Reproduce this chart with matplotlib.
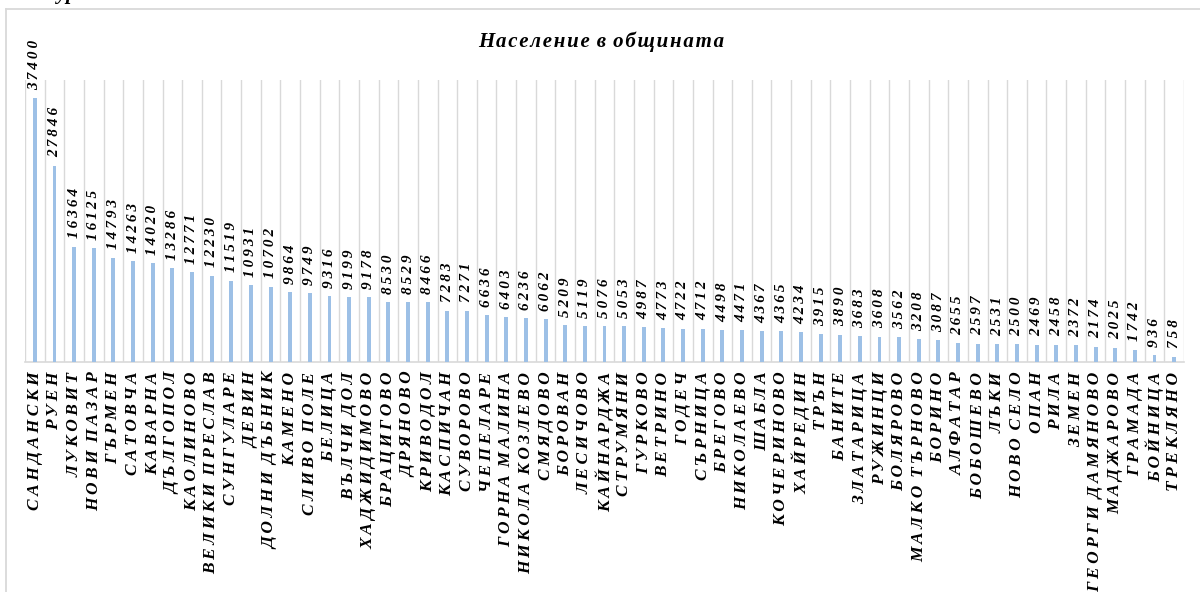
import matplotlib
matplotlib.use("Agg")
import matplotlib.pyplot as plt
import numpy as np
from matplotlib.lines import Line2D

categories = [
    "САНДАНСКИ", "РУЕН", "ЛУКОВИТ", "НОВИ ПАЗАР", "ГЪРМЕН", "САТОВЧА", "КАВАРНА",
    "ДЪЛГОПОЛ", "КАОЛИНОВО", "ВЕЛИКИ ПРЕСЛАВ", "СУНГУЛАРЕ", "ДЕВИН", "ДОЛНИ ДЪБНИК",
    "КАМЕНО", "СЛИВО ПОЛЕ", "БЕЛИЦА", "ВЪЛЧИ ДОЛ", "ХАДЖИДИМОВО", "БРАЦИГОВО",
    "ДРЯНОВО", "КРИВОДОЛ", "КАСПИЧАН", "СУВОРОВО", "ЧЕПЕЛАРЕ", "ГОРНА МАЛИНА",
    "НИКОЛА КОЗЛЕВО", "СМЯДОВО", "БОРОВАН", "ЛЕСИЧОВО", "КАЙНАРДЖА", "СТРУМЯНИ",
    "ГУРКОВО", "ВЕТРИНО", "ГОДЕЧ", "СЪРНИЦА", "БРЕГОВО", "НИКОЛАЕВО", "ШАБЛА",
    "КОЧЕРИНОВО", "ХАЙРЕДИН", "ТРЪН", "БАНИТЕ", "ЗЛАТАРИЦА", "РУЖИНЦИ", "БОЛЯРОВО",
    "МАЛКО ТЪРНОВО", "БОРИНО", "АЛФАТАР", "БОБОШЕВО", "ЛЪКИ", "НОВО СЕЛО", "ОПАН",
    "РИЛА", "ЗЕМЕН", "ГЕОРГИ ДАМЯНОВО", "МАДЖАРОВО", "ГРАМАДА", "БОЙНИЦА", "ТРЕКЛЯНО",
]
population = [
    37400, 27846, 16364, 16125, 14793, 14263, 14020, 13286, 12771, 12230, 11519,
    10931, 10702, 9864, 9749, 9316, 9199, 9178, 8530, 8529, 8466, 7283, 7271,
    6636, 6403, 6236, 6062, 5209, 5119, 5076, 5053, 4987, 4773, 4722, 4712, 4498,
    4471, 4367, 4365, 4234, 3915, 3890, 3683, 3608, 3562, 3208, 3087, 2655, 2597,
    2531, 2500, 2469, 2458, 2372, 2174, 2025, 1742, 936, 758,
]
title = "Население в общината"

SERIF = ["Liberation Serif", "DejaVu Serif"]
TS = "\u2009"  # thin space for letter spacing
HS = "\u200a"


def spaced(s, sep=TS, wordsep=" " + TS):
    words = s.split(" ")
    return wordsep.join(sep.join(list(w)) for w in words)


W, H = 1200, 592
fig = plt.figure(figsize=(W / 100, H / 100), dpi=100)
ax = fig.add_axes([25 / W, 1 - 362 / H, (1184 - 25) / W, (362 - 80) / H])

x = np.arange(len(categories))
ax.bar(x, population, width=0.2, color="#9DC0E6", zorder=3)
ax.set_xlim(-0.5, len(categories) - 0.5)
ax.set_ylim(0, 40000)

# vertical gridlines at category boundaries
for b in np.arange(-0.5, len(categories), 1.0):
    ax.axvline(b, color="#D9D9D9", lw=1.0, zorder=1)

for s in ["top", "right", "left"]:
    ax.spines[s].set_visible(False)
ax.spines["bottom"].set_color("#D9D9D9")
ax.spines["bottom"].set_linewidth(1.2)
ax.set_yticks([])
ax.set_xticks(x)
ax.set_xticklabels([spaced(c) for c in categories], rotation=90,
                   fontfamily=SERIF, fontsize=12.5, fontweight="bold", fontstyle="italic")
ax.tick_params(axis="x", length=0, pad=7)

for xi, v in zip(x, population):
    ax.annotate(spaced(str(v), TS), (xi, v), xytext=(0, 6), textcoords="offset points",
                rotation=90, ha="center", va="bottom", fontsize=11,
                fontfamily=SERIF, fontweight="bold", fontstyle="italic", color="black")

fig.text(601 / W, 1 - 42 / H, spaced(title, HS, " " + HS), ha="center", va="center",
         fontsize=15, fontfamily=SERIF, fontweight="bold", fontstyle="italic")

# cut-off caption at the very top (only its descenders are visible)
fig.text(20 / W, 1 + 1 / H, "Фигура", ha="left", va="baseline",
         fontsize=15, fontfamily=SERIF, fontweight="bold", fontstyle="italic")

# outer chart frame
fig.add_artist(Line2D([6 / W, 6 / W], [0, 1 - 9 / H], transform=fig.transFigure,
                      color="#D9D9D9", lw=1.3))
fig.add_artist(Line2D([6 / W, 1], [1 - 9 / H, 1 - 9 / H], transform=fig.transFigure,
                      color="#D9D9D9", lw=1.3))

fig.savefig("out.png", dpi=100)
